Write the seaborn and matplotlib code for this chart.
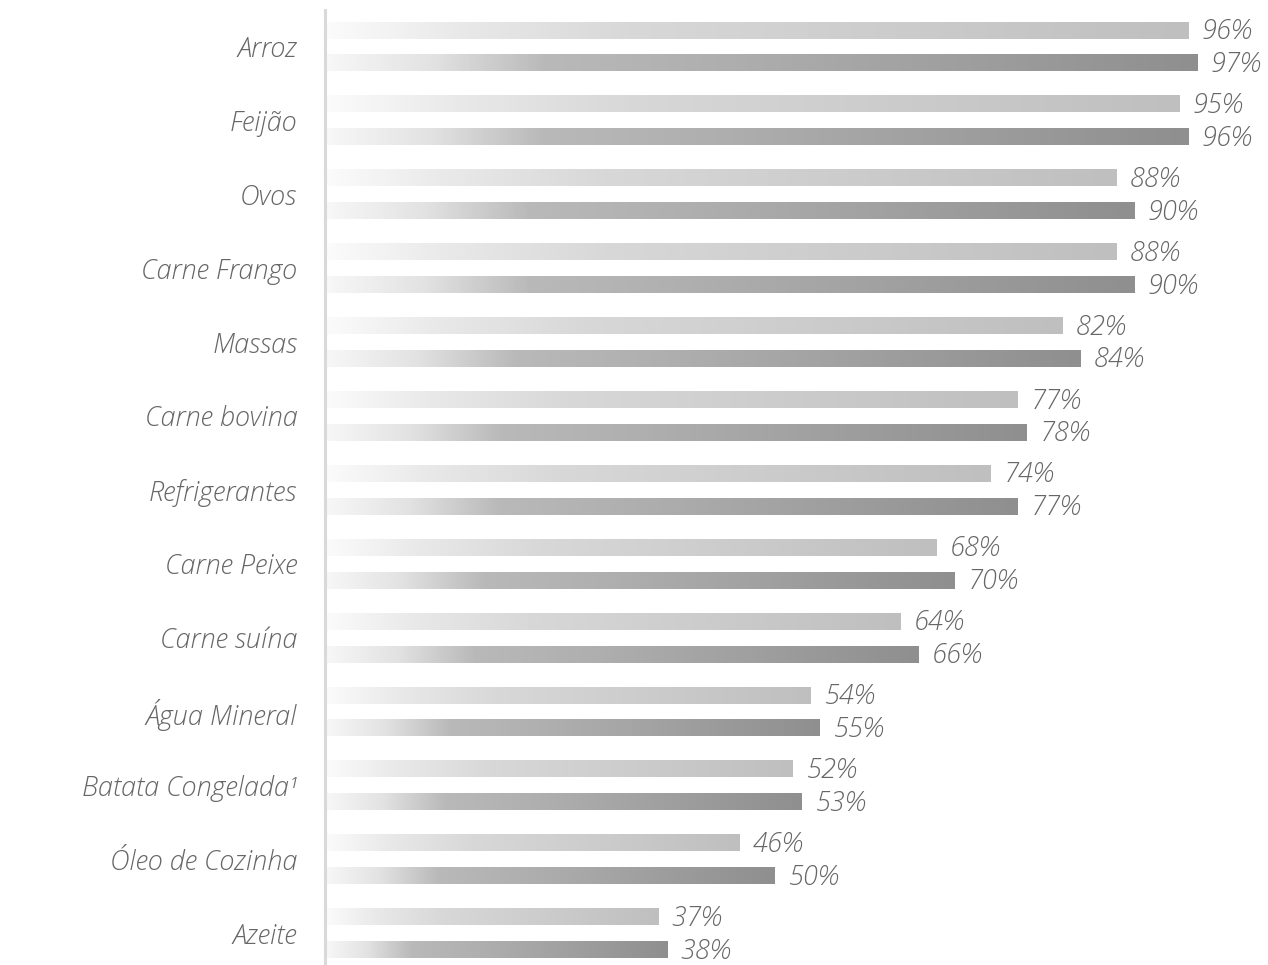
import numpy as np
import pandas as pd
import matplotlib
matplotlib.use("Agg")
import matplotlib.pyplot as plt
import seaborn as sns
from matplotlib.colors import LinearSegmentedColormap

# dados
categorias = ["Arroz", "Feijão", "Ovos", "Carne Frango", "Massas", "Carne bovina",
              "Refrigerantes", "Carne Peixe", "Carne suína", "Água Mineral",
              "Batata Congelada¹", "Óleo de Cozinha", "Azeite"]
serie_a = [96, 95, 88, 88, 82, 77, 74, 68, 64, 54, 52, 46, 37]
serie_b = [97, 96, 90, 90, 84, 78, 77, 70, 66, 55, 53, 50, 38]
series = ["A", "B"]

df = pd.DataFrame({
    "categoria": categorias * 2,
    "valor": serie_a + serie_b,
    "serie": [series[0]] * len(categorias) + [series[1]] * len(categorias),
})

sns.set_style("white")
plt.rcParams["font.family"] = ["Open Sans", "DejaVu Sans"]
plt.rcParams["font.style"] = "italic"
plt.rcParams["font.weight"] = 300

TXT = "#666666"
FS = 19.5
cmaps = {
    "A": LinearSegmentedColormap.from_list("a", [(0, "#fbfbfb"), (0.15, "#e9e9e9"),
                                                (0.35, "#d8d8d8"), (1, "#bfbfbf")]),
    "B": LinearSegmentedColormap.from_list("b", [(0, "#f7f7f7"), (0.12, "#e2e2e2"),
                                                (0.25, "#b9b9b9"), (0.45, "#afafaf"),
                                                (1, "#8f8f8f")]),
}

fig = plt.figure(figsize=(12.68, 9.65), dpi=100)
ax = fig.add_axes([326 / 1268, 0, 1 - 326 / 1268, 1 - 10 / 965])

sns.barplot(data=df, y="categoria", x="valor", hue="serie", orient="h",
            width=0.89, gap=0.483, dodge=True, legend=False, ax=ax,
            palette={"A": "#c0c0c0", "B": "#909090"}, edgecolor="none")

# gradiente horizontal em cada barra
grad = np.linspace(0, 1, 256).reshape(1, -1)
bars = list(ax.patches)
n = len(categorias)
for i, p in enumerate(bars):
    s = "A" if i < n else "B"
    x0, y0 = p.get_x(), p.get_y()
    w, h = p.get_width(), p.get_height()
    p.set_facecolor("none")
    im = ax.imshow(grad, cmap=cmaps[s], aspect="auto",
                   extent=[x0, x0 + w, y0 + h, y0], zorder=2,
                   interpolation="bilinear")
    im.set_clip_path(p)
    ax.text(x0 + w + 1.5, y0 + h / 2 + 0.02, f"{int(round(w))}%",
            va="center", ha="left", fontsize=FS, color=TXT)

ax.set_xlim(0, (1268 - 326) / 8.98)
ax.set_ylim(n - 1 + 0.43, -0.494)
ax.set_xlabel("")
ax.set_ylabel("")
ax.set_xticks([])
ax.set_yticks(range(n), categorias)
ax.tick_params(axis="y", length=0, pad=20, labelsize=FS, labelcolor=TXT)

for side in ["top", "right", "bottom"]:
    ax.spines[side].set_visible(False)
ax.spines["left"].set_color("#d9d9d9")
ax.spines["left"].set_linewidth(2.2)
ax.spines["left"].set_position(("data", -0.1))

fig.savefig("out.png", dpi=100)
